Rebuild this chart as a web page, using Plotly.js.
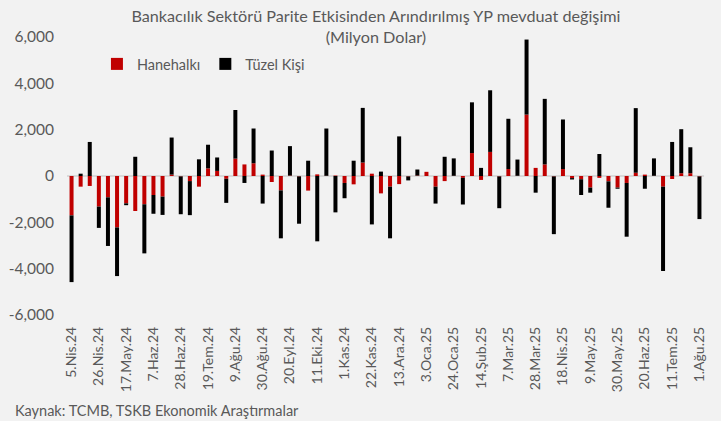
<!DOCTYPE html>
<html>
<head>
<meta charset="utf-8">
<script src="https://cdn.plot.ly/plotly-3.0.1.min.js"></script>
<style>html,body{margin:0;padding:0;background:#f2f2f2;}#chart{width:721px;height:421px;}</style>
</head>
<body>
<div id="chart"></div>
<script>
const weeks = [
"5.Nis.24","12.Nis.24","19.Nis.24","26.Nis.24","3.May.24","10.May.24","17.May.24","24.May.24","31.May.24",
"7.Haz.24","14.Haz.24","21.Haz.24","28.Haz.24","5.Tem.24","12.Tem.24","19.Tem.24","26.Tem.24",
"2.Ağu.24","9.Ağu.24","16.Ağu.24","23.Ağu.24","30.Ağu.24","6.Eyl.24","13.Eyl.24","20.Eyl.24","27.Eyl.24",
"4.Eki.24","11.Eki.24","18.Eki.24","25.Eki.24","1.Kas.24","8.Kas.24","15.Kas.24","22.Kas.24","29.Kas.24",
"6.Ara.24","13.Ara.24","20.Ara.24","27.Ara.24","3.Oca.25","10.Oca.25","17.Oca.25","24.Oca.25","31.Oca.25",
"7.Şub.25","14.Şub.25","21.Şub.25","28.Şub.25","7.Mar.25","14.Mar.25","21.Mar.25","28.Mar.25",
"4.Nis.25","11.Nis.25","18.Nis.25","25.Nis.25","2.May.25","9.May.25","16.May.25","23.May.25","30.May.25",
"6.Haz.25","13.Haz.25","20.Haz.25","27.Haz.25","4.Tem.25","11.Tem.25","18.Tem.25","25.Tem.25","1.Ağu.25"
];
const hanehalki = [
-1700,-460,-430,-1320,-920,-2220,-1180,-1510,-1220,-820,-890,60,-20,-220,-460,330,220,
-120,750,500,550,60,-260,-620,20,-20,-630,70,10,20,-300,-360,580,100,-750,
-460,-350,-20,20,180,-460,-220,10,-80,990,-170,1040,-20,300,10,2650,
350,500,-20,300,-90,-140,-500,-80,-230,-500,-300,140,60,10,-460,-130,120,120,-20
];
const tuzel = [
-2880,100,1470,-920,-2100,-2100,-80,830,-2120,-810,-790,1600,-1630,-1470,720,1020,580,
-1040,2100,-300,1500,-1190,1100,-2070,1270,-2040,660,-2820,2040,-1570,-660,660,2360,-2090,190,
-2230,1710,-170,260,0,-730,830,750,-1150,2190,350,2660,-1370,2170,700,3240,
-720,2830,-2490,2140,-60,-680,-220,950,-1140,-50,-2320,2790,-550,750,-3640,1470,1900,1120,-1840
];
const xTicks = ["5.Nis.24","26.Nis.24","17.May.24","7.Haz.24","28.Haz.24","19.Tem.24","9.Ağu.24","30.Ağu.24",
"20.Eyl.24","11.Eki.24","1.Kas.24","22.Kas.24","13.Ara.24","3.Oca.25","24.Oca.25","14.Şub.25","7.Mar.25",
"28.Mar.25","18.Nis.25","9.May.25","30.May.25","20.Haz.25","11.Tem.25","1.Ağu.25"];
const yTickVals = [-6000,-4000,-2000,0,2000,4000,6000];
const yTickText = ["-6,000","-4,000","-2,000","0","2,000","4,000","6,000"];

const font = "Lato, 'Open Sans', sans-serif";
const grey = "#595959";

const data = [
  {type:"bar", name:"Hanehalkı", x:weeks, y:hanehalki, marker:{color:"#c00000"}},
  {type:"bar", name:"Tüzel Kişi", x:weeks, y:tuzel, marker:{color:"#000000"}}
];
const layout = {
  width:721, height:421,
  paper_bgcolor:"#f2f2f2", plot_bgcolor:"#f2f2f2",
  margin:{l:67, r:17, t:37, b:106},
  barmode:"relative", bargap:0.56,
  font:{family:font, color:grey, size:14},
  title:{text:"Bankacılık Sektörü Parite Etkisinden Arındırılmış YP mevduat değişimi<br>(Milyon Dolar)",
    font:{family:font, size:16.2, color:grey}, x:0.485, xref:"paper", xanchor:"center",
    y:1-22/421, yref:"container", yanchor:"middle"},
  showlegend:true,
  legend:{orientation:"h", x:0.047, y:0.903, xanchor:"left", yanchor:"middle", bgcolor:"rgba(0,0,0,0)",
    font:{family:font, size:14.5, color:grey}, traceorder:"normal", itemwidth:30},
  xaxis:{type:"category", tickmode:"array", tickvals:xTicks, ticktext:xTicks, tickangle:-90,
    showgrid:false, zeroline:false, showline:false, ticks:"", ticklabelstandoff:8,
    tickfont:{size:14, color:grey}, automargin:false},
  yaxis:{range:[-6000,6000], tickmode:"array", tickvals:yTickVals, ticktext:yTickText,
    showgrid:false, zeroline:true, zerolinecolor:"#d9d9d9", zerolinewidth:2, showline:false, ticks:"",
    ticklabelstandoff:12, tickfont:{size:15.5, color:grey}, automargin:false},
  annotations:[{text:"Kaynak: TCMB, TSKB Ekonomik Araştırmalar", xref:"paper", yref:"paper",
    x:-0.084, y:-0.342, xanchor:"left", yanchor:"middle", showarrow:false, font:{family:font, size:14.5, color:grey}}]
};
Plotly.newPlot("chart", data, layout, {staticPlot:true, displayModeBar:false});
</script>
</body>
</html>
